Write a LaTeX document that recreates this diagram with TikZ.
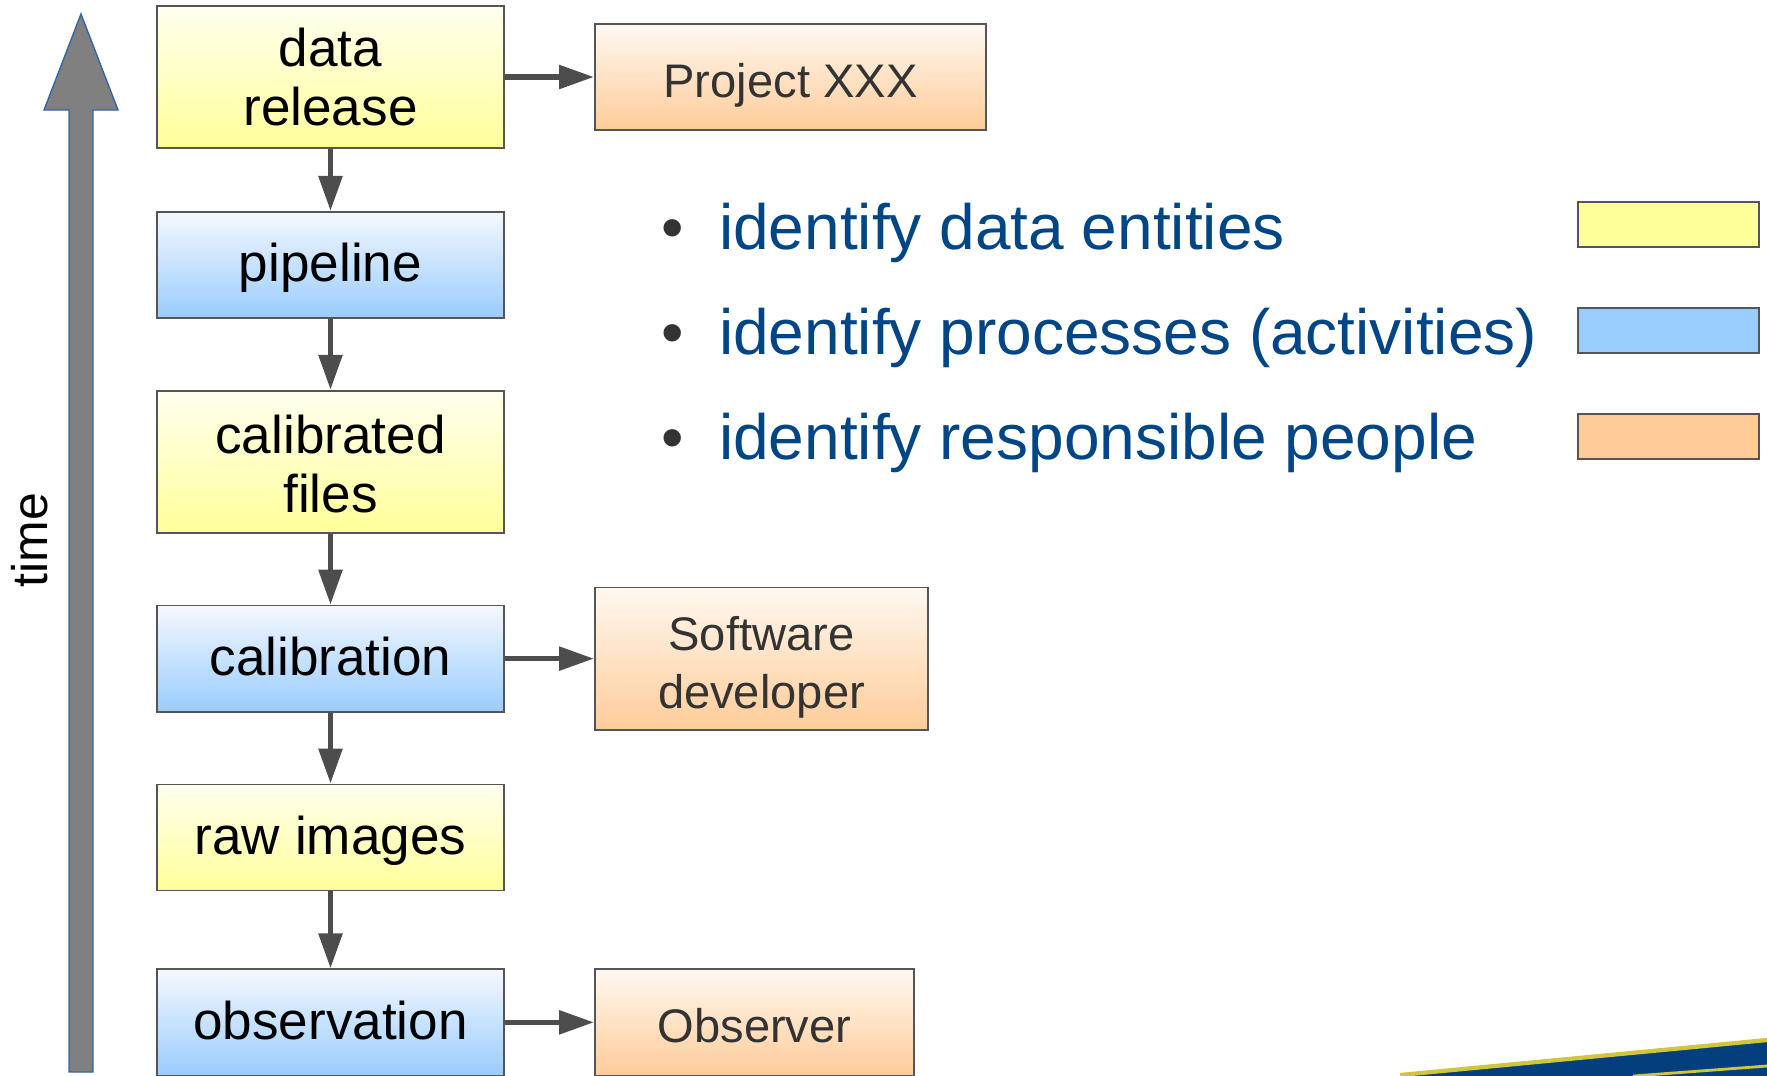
\documentclass[tikz,border=0pt]{standalone}
\usepackage{fontspec}
\setmainfont{Liberation Sans}
\usetikzlibrary{positioning,arrows.meta}

\definecolor{dataYellow}{HTML}{FFFF99}
\definecolor{topYellow}{HTML}{FFFFEE}
\definecolor{procBlue}{HTML}{99CCFF}
\definecolor{topBlue}{HTML}{F4F8FF}
\definecolor{peopleOrange}{HTML}{FFCC99}
\definecolor{topOrange}{HTML}{FFF8F0}
\definecolor{boxline}{HTML}{555555}
\definecolor{arrowgray}{HTML}{4D4D4D}
\definecolor{textgray}{HTML}{333333}
\definecolor{itemblue}{HTML}{004586}
\definecolor{timegray}{HTML}{808080}
\definecolor{timeline}{HTML}{3465A4}
\definecolor{stripeblue}{HTML}{023F7C}
\definecolor{stripeyellow}{HTML}{D2C53E}

\begin{document}
\begin{tikzpicture}[
  x=0.01cm, y=-0.01cm,
  node distance = 0.71cm and 0.89cm,
  box/.style     = {draw=boxline, line width=0.5pt, inner sep=2pt, align=center,
                    minimum width=3.47cm, minimum height=1.06cm,
                    font=\fontsize{15.1}{16.8}\selectfont},
  entity/.style  = {box, top color=topYellow, bottom color=dataYellow},
  process/.style = {box, top color=topBlue, bottom color=procBlue},
  person/.style  = {box, top color=topOrange, bottom color=peopleOrange,
                    text=textgray, font=\fontsize{13.4}{16.5}\selectfont},
  tall/.style    = {minimum height=1.42cm},
  single/.style  = {text height=12.1pt, text depth=2.4pt},
  lowtext/.style = {text height=11.6pt, text depth=0pt},
  arr/.style     = {-{Triangle[length=0.35cm, width=0.23cm]},
                    line width=1.6pt, draw=arrowgray},
  item/.style    = {anchor=base west, inner sep=0pt, text=itemblue,
                    font=\fontsize{18.2}{21}\selectfont},
  swatch/.style  = {draw=boxline, line width=0.4pt,
                    minimum width=1.81cm, minimum height=0.45cm},
]
\useasboundingbox (0,0) rectangle (1767,1075);
\clip (0,0) rectangle (1767,1075);

% time axis
\filldraw[fill=timegray, draw=timeline, line width=0.4pt]
  (69,1072) -- (69,110) -- (44,110) -- (81,14) -- (118,110)
  -- (93,110) -- (93,1072) -- cycle;
\node[rotate=90, font=\fontsize{14.2}{16}\selectfont] (time) at (30,540) {time};

% chain of entities and processes
\node[entity, tall] (release) at (330.5,77) {data\\release};
\node[process, single, below=0.62cm of release] (pipeline) {pipeline};
\node[entity, tall, below=of pipeline] (calfiles) {\rule{0pt}{12pt}calibrated\\files};
\node[process, single, below=of calfiles] (calib) {calibration};
\node[entity, single, below=of calib] (raw) {raw images};
\node[process, single, below=0.77cm of raw] (obs) {observation};

% responsible people
\node[person, lowtext, minimum width=3.91cm, right=of release] (project) {Project XXX};
\node[person, tall, minimum width=3.33cm, right=of calib] (developer)
  {\rule{0pt}{14.4pt}Software\\developer};
\node[person, lowtext, minimum width=3.19cm, right=of obs] (observer) {Observer};

\draw[arr] (release) -- (pipeline);
\draw[arr] (pipeline) -- (calfiles);
\draw[arr] (calfiles) -- (calib);
\draw[arr] (calib) -- (raw);
\draw[arr] (raw) -- (obs);
\draw[arr] (release) -- (project);
\draw[arr] (calib) -- (developer);
\draw[arr] (obs) -- (observer);

% legend
\node[item] (item1) at (661,249)
  {\textcolor{textgray}{\textbullet}\hspace{0.35cm}identify data entities};
\node[item] (item2) at (661,354)
  {\textcolor{textgray}{\textbullet}\hspace{0.35cm}identify processes (activities)};
\node[item] (item3) at (661,459)
  {\textcolor{textgray}{\textbullet}\hspace{0.35cm}identify responsible people};
\node[swatch, fill=dataYellow] (swYellow) at (1668.5,224.5) {};
\node[swatch, fill=procBlue] (swBlue) at (1668.5,330.5) {};
\node[swatch, fill=peopleOrange] (swOrange) at (1668.5,436.5) {};

% corner stripe
\fill[stripeblue] (1400,1075) -- (1767,1040) -- (1767,1080) -- (1400,1080) -- cycle;
\draw[stripeyellow, line width=1.2pt] (1400,1075) -- (1767,1040);
\draw[stripeyellow, line width=0.8pt] (1633,1076) -- (1767,1066);
\end{tikzpicture}
\end{document}
